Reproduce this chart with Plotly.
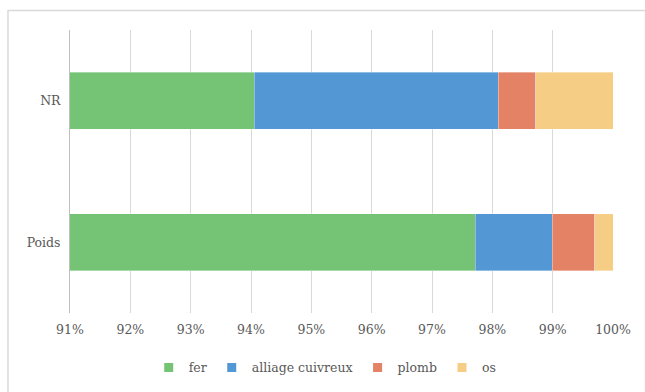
import plotly.graph_objects as go

categories = ["Poids", "NR"]
series_names = ["fer", "alliage cuivreux", "plomb", "os"]
fer = [0.9772, 0.9405]
alliage_cuivreux = [0.0127, 0.0405]
plomb = [0.0071, 0.0062]
os_ = [0.0030, 0.0128]
tick_vals = [0.91, 0.92, 0.93, 0.94, 0.95, 0.96, 0.97, 0.98, 0.99, 1.00]
tick_text = ["91%", "92%", "93%", "94%", "95%", "96%", "97%", "98%", "99%", "100%"]

colors = ["#75C476", "#5398D4", "#E38265", "#F5CD85"]
values = [fer, alliage_cuivreux, plomb, os_]

fig = go.Figure()
for name, vals, col in zip(series_names, values, colors):
    fig.add_trace(go.Bar(
        y=categories, x=vals, name=name, orientation="h",
        marker=dict(color=col, line=dict(color="rgba(255,255,255,0.6)", width=0.6)),
        showlegend=False,
    ))
for name, col in zip(series_names, colors):
    fig.add_trace(go.Scatter(
        x=[None], y=[None], mode="markers", name=name,
        marker=dict(symbol="square", size=9, color=col),
    ))

ff = "DejaVu Serif"
fs = 12.5
fig.update_layout(
    template="none",
    barmode="stack",
    bargap=0.6,
    width=645, height=392,
    margin=dict(l=70, r=32, t=30, b=79, autoexpand=False),
    plot_bgcolor="white", paper_bgcolor="white",
    font=dict(family=ff, size=fs, color="#595959"),
    xaxis=dict(
        range=[0.91, 1.0], tickvals=tick_vals, ticktext=tick_text,
        showgrid=True, gridcolor="#D9D9D9", gridwidth=1,
        zeroline=False, showline=False, ticks="", ticklabelstandoff=7,
        tickfont=dict(family=ff, size=fs, color="#595959"),
    ),
    yaxis=dict(
        categoryorder="array", categoryarray=categories,
        showgrid=False, showline=True, linecolor="#BFBFBF", linewidth=1,
        ticks="", ticklabelstandoff=6, range=[-0.5, 1.5],
        tickfont=dict(family=ff, size=fs, color="#595959"),
    ),
    legend=dict(
        orientation="h", x=0.47, xanchor="center", y=-0.194, yanchor="middle",
        font=dict(family=ff, size=fs, color="#595959"),
        itemwidth=30, traceorder="normal",
    ),
    shapes=[dict(
        type="rect", xref="paper", yref="paper",
        x0=-0.1142, y0=-0.3, x1=1.06, y1=1.0687,
        line=dict(color="#D9D9D9", width=1.5), fillcolor="rgba(0,0,0,0)", layer="below",
    )],
)
fig.write_html(
    "out.html",
    config={"displayModeBar": False},
    post_script="document.body.style.margin='0';document.body.style.padding='0';",
)
